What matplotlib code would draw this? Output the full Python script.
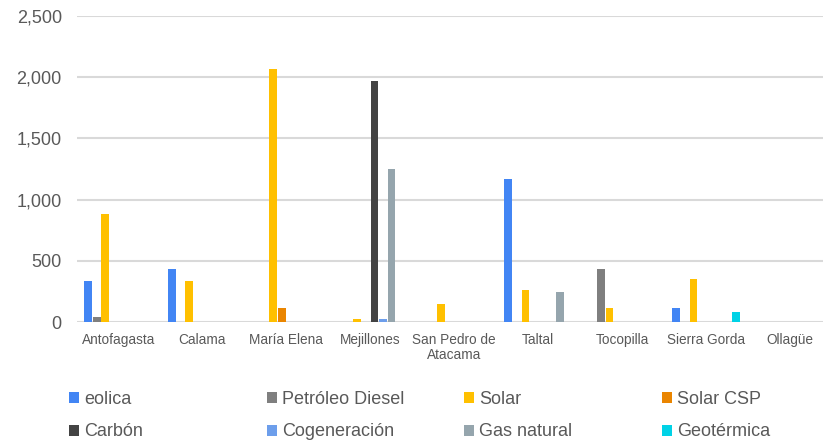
import numpy as np
import matplotlib.pyplot as plt

comunas = ['Antofagasta', 'Calama', 'María Elena', 'Mejillones', 'San Pedro de\nAtacama',
           'Taltal', 'Tocopilla', 'Sierra Gorda', 'Ollagüe']

eolica = [335, 433, 0, 0, 0, 1168, 0, 114, 0]
petroleo_diesel = [40, 0, 0, 0, 0, 0, 433, 0, 0]
solar = [885, 335, 2067, 25, 147, 261, 114, 351, 0]
solar_csp = [0, 0, 114, 0, 0, 0, 0, 0, 0]
carbon = [0, 0, 0, 1969, 0, 0, 0, 0, 0]
cogeneracion = [0, 0, 0, 22, 0, 0, 0, 0, 0]
gas_natural = [0, 0, 0, 1250, 0, 245, 0, 0, 0]
geotermica = [0, 0, 0, 0, 0, 0, 0, 82, 0]

series = [
    ('eolica', eolica, '#4285F4'),
    ('Petróleo Diesel', petroleo_diesel, '#7F7F7F'),
    ('Solar', solar, '#FFC000'),
    ('Solar CSP', solar_csp, '#EA8500'),
    ('Carbón', carbon, '#434343'),
    ('Cogeneración', cogeneracion, '#6D9EEB'),
    ('Gas natural', gas_natural, '#95A5AD'),
    ('Geotérmica', geotermica, '#00D2E6'),
]

plt.rcParams['font.family'] = ['Liberation Sans', 'DejaVu Sans']
text_color = '#595959'

fig = plt.figure(figsize=(8.23, 4.40), dpi=100)
ax = fig.add_axes([0.0936, 0.268, 0.9064, 0.696])

x = np.arange(len(comunas))
w = 0.102
handles = []
for i, (name, vals, color) in enumerate(series):
    b = ax.bar(x + (i - 3.5) * w, vals, width=0.092, color=color, label=name, zorder=3)
    handles.append(b)

ax.set_ylim(0, 2500)
ax.set_xlim(-0.49, 8.39)
ax.set_yticks(np.arange(0, 2501, 500))
ax.set_yticklabels([f'{v:,}' for v in range(0, 2501, 500)], fontsize=13, color=text_color)
ax.set_xticks(x)
ax.set_xticklabels(comunas, fontsize=9.8, color=text_color, linespacing=1.05)
ax.tick_params(axis='x', length=0, pad=8)
ax.tick_params(axis='y', length=0, pad=11)
ax.grid(axis='y', color='#D9D9D9', linewidth=1.5, zorder=0)
for s in ax.spines.values():
    s.set_visible(False)

# legend: 4 columns of 2 rows at fixed x positions
col_x = [0.0838, 0.3245, 0.5637, 0.8044]
for c in range(4):
    hs = [handles[c], handles[c + 4]]
    leg = fig.legend(hs, [h.get_label() for h in hs], loc='center left',
                     bbox_to_anchor=(col_x[c], 0.055), frameon=False, fontsize=13,
                     handlelength=0.55, handleheight=0.55, handletextpad=0.3,
                     labelspacing=0.85, borderaxespad=0, borderpad=0)
    for t in leg.get_texts():
        t.set_color(text_color)

fig.savefig('out.png', dpi=100)
